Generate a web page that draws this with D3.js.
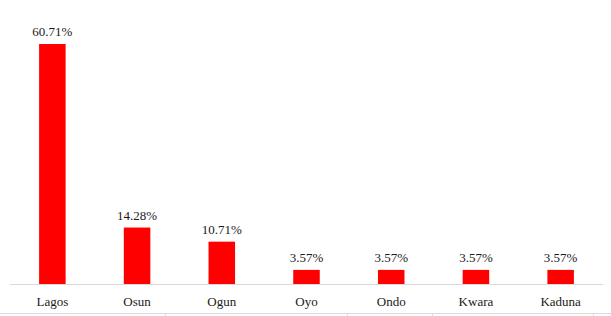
<!DOCTYPE html>
<html><head><meta charset="utf-8">
<script src="https://cdn.jsdelivr.net/npm/d3@7"></script>
<style>html,body{margin:0;padding:0;background:#fff;}svg{display:block;}</style>
</head><body>
<svg id="c" width="611" height="316"></svg>
<script>
const categories = ["Lagos","Osun","Ogun","Oyo","Ondo","Kwara","Kaduna"];
const values = [60.71,14.28,10.71,3.57,3.57,3.57,3.57];
const valueLabels = ["60.71%","14.28%","10.71%","3.57%","3.57%","3.57%","3.57%"];

const FONT = "Liberation Serif";
const svg = d3.select("#c");
const W = 611, H = 316;
const x = d3.scaleBand().domain(categories).range([10,603]).paddingInner(0.687).paddingOuter(0.3435);
const y = d3.scaleLinear().domain([0,70]).range([284, 284 - 70*3.953]);

svg.selectAll("rect.bar").data(values).enter().append("rect")
  .attr("class","bar")
  .attr("x",(d,i)=>x(categories[i]))
  .attr("width",x.bandwidth())
  .attr("y",d=>y(d))
  .attr("height",d=>y(0)-y(d))
  .attr("fill","#ff0000");

svg.append("line").attr("x1",10).attr("x2",603).attr("y1",284.5).attr("y2",284.5)
  .attr("stroke","#d9d9d9").attr("stroke-width",1);

svg.selectAll("text.val").data(values).enter().append("text")
  .attr("class","val")
  .attr("x",(d,i)=>x(categories[i])+x.bandwidth()/2)
  .attr("y",d=>y(d)-8)
  .attr("text-anchor","middle")
  .attr("font-family",FONT)
  .attr("font-size",13)
  .attr("fill","#1a1a1a")
  .text((d,i)=>valueLabels[i]);

const xAxis = svg.append("g").attr("transform","translate(0,284)")
  .call(d3.axisBottom(x).tickSize(0).tickPadding(13));
xAxis.attr("font-family",FONT).attr("font-size",13);
xAxis.select(".domain").remove();
xAxis.selectAll("text").attr("fill","#1a1a1a");

// surrounding table border at the bottom
svg.append("line").attr("x1",0).attr("x2",W).attr("y1",313.5).attr("y2",313.5)
  .attr("stroke","#d9d9d9").attr("stroke-width",1);
[165,347,432,593].forEach(px=>{
  svg.append("line").attr("x1",px+0.5).attr("x2",px+0.5).attr("y1",313).attr("y2",316)
    .attr("stroke","#d9d9d9").attr("stroke-width",1);
});
</script>
</body></html>
